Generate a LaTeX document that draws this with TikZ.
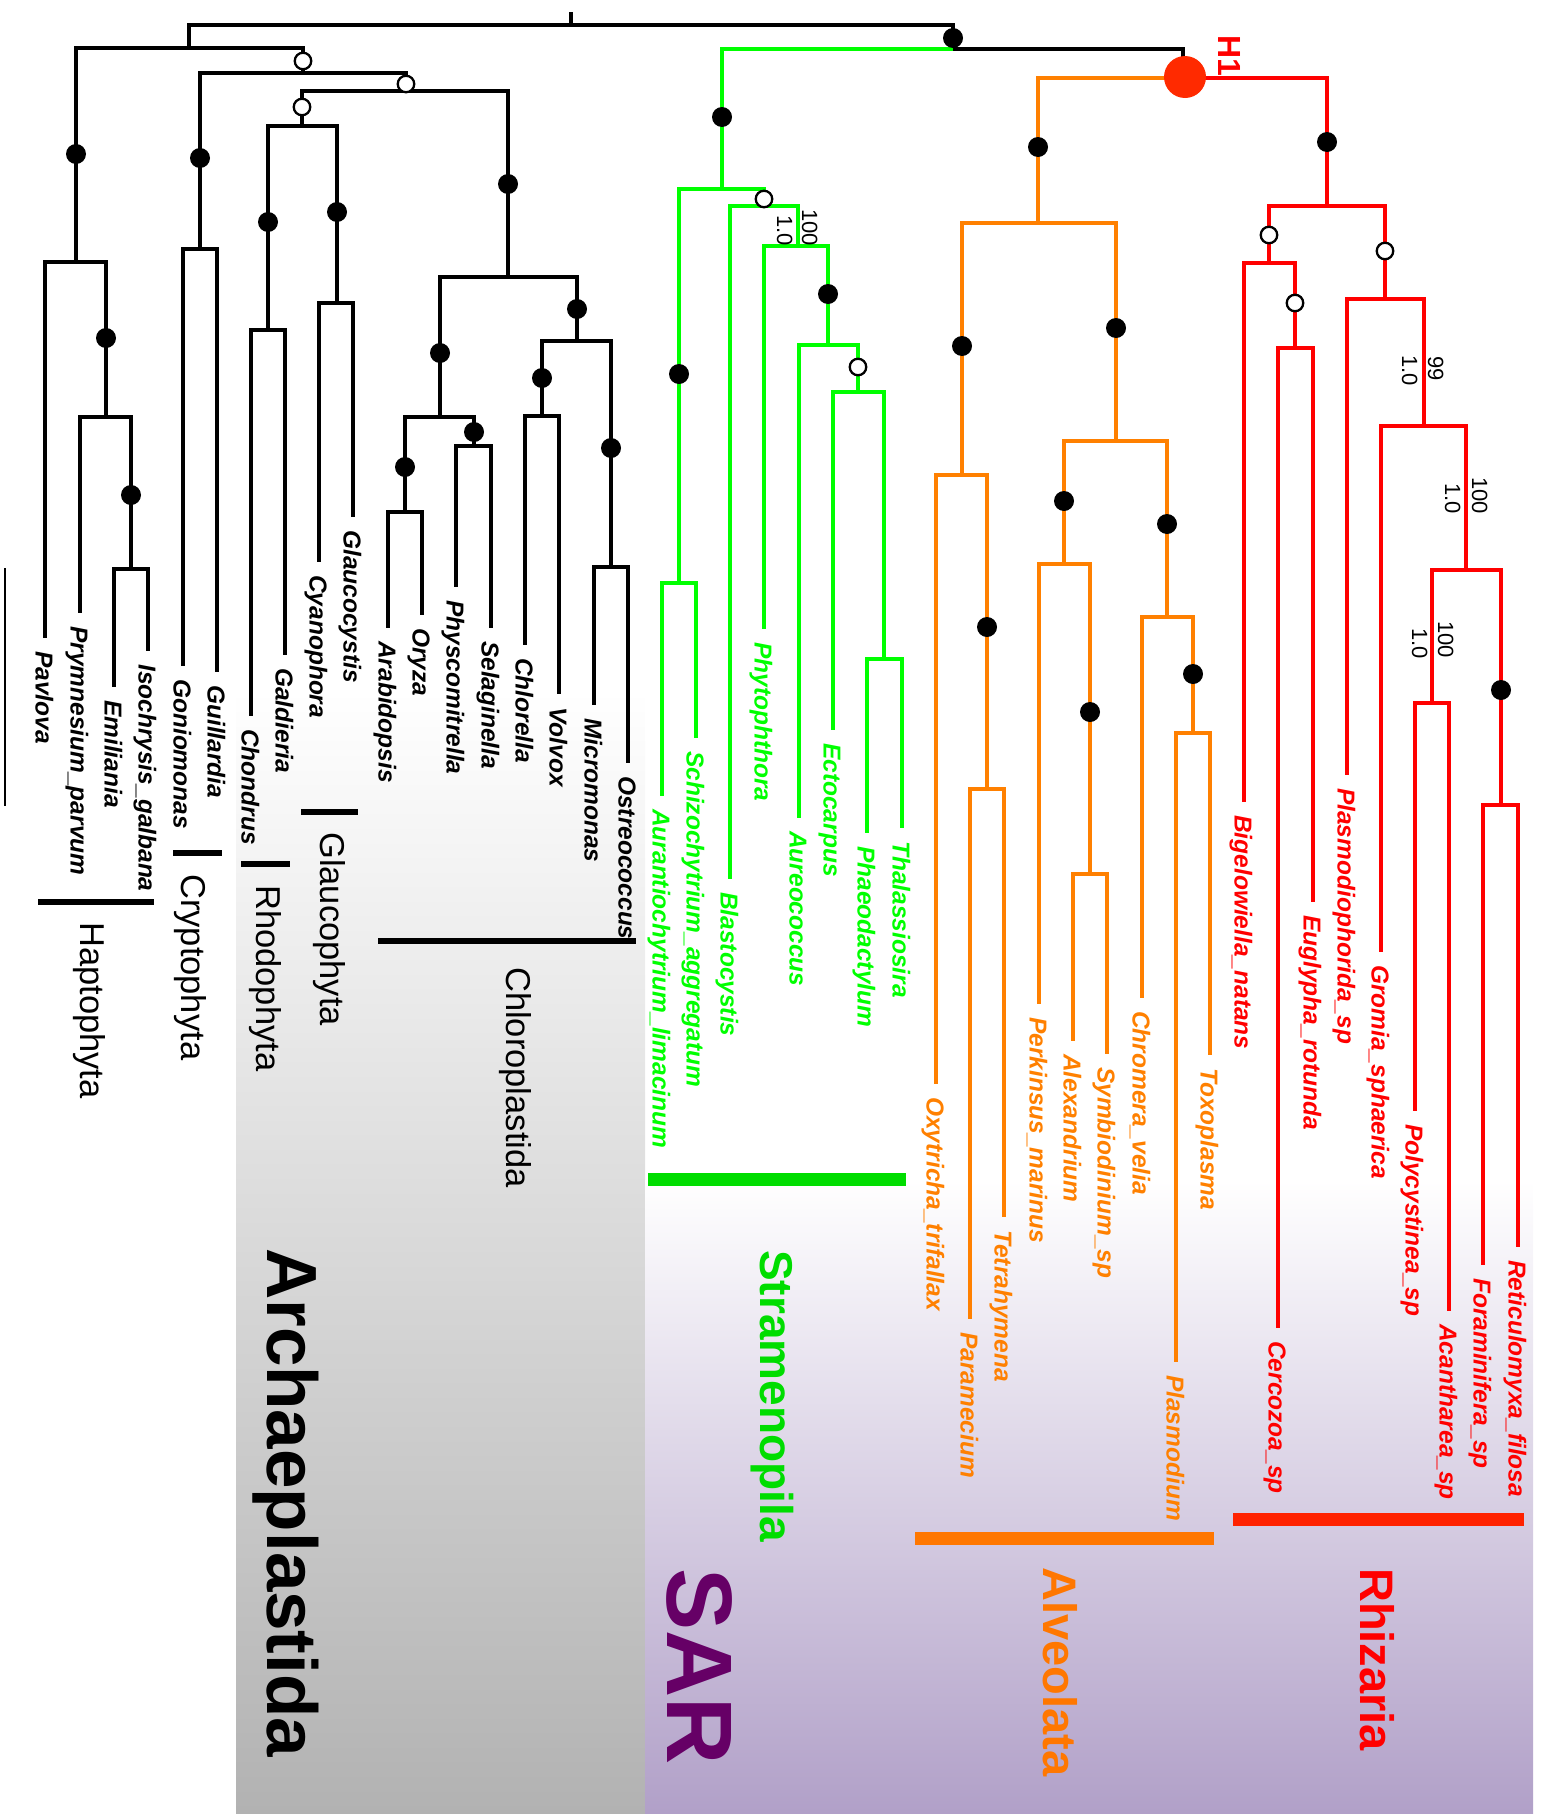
\documentclass[tikz,border=0pt]{standalone}
\usepackage{fontspec}
\setmainfont{Liberation Sans}
\usetikzlibrary{calc}
\definecolor{lgreen}{HTML}{00FF00}
\definecolor{lorange}{HTML}{FF8000}
\definecolor{lred}{HTML}{FF0000}
\definecolor{bgreen}{HTML}{00DD00}
\definecolor{borange}{HTML}{FF7700}
\definecolor{bred}{HTML}{FF2200}
\definecolor{hred}{HTML}{FF2A00}
\definecolor{sarpurple}{HTML}{660066}
\definecolor{purplebg}{HTML}{B1A0C8}
\definecolor{graybg}{HTML}{B2B2B2}
\newcommand\tip[5]{\coordinate (#1) at (#2,#3); \node[tipl,text=#5] (#1l) at ({#2-9.5},{#3+13}) {#4};}
\begin{document}
\begin{tikzpicture}[x=1pt,y=-1pt,
 edge/.style={line width=4pt},
 fdot/.style={circle,fill=black,inner sep=0pt,minimum size=20pt},
 odot/.style={circle,draw=black,line width=2.3pt,fill=white,inner sep=0pt,minimum size=16.5pt},
 tipl/.style={rotate=-90,anchor=base west,inner sep=0pt,font=\fontsize{24.5}{24.5}\selectfont\bfseries\itshape},
 supl/.style={rotate=-90,anchor=base east,inner sep=0pt,font=\fontsize{22}{22}\selectfont},
 cladel/.style={rotate=-90,anchor=base west,inner sep=0pt,font=\fontsize{34.5}{34.5}\selectfont},
 bigl/.style={rotate=-90,anchor=base west,inner sep=0pt},
 cbar/.style={line width=6pt},
 tbar/.style={line width=13pt}]
\useasboundingbox (0,0) rectangle (1549,1820);
% backgrounds
\shade[top color=white,bottom color=graybg] (236,690) rectangle (645,1813);
\shade[top color=white,bottom color=purplebg] (645,1180) rectangle (1533,1813);

% internal nodes
\coordinate (rootstem) at (571,12);
\coordinate (root) at (571,25);
\coordinate (nA) at (189,48);
\coordinate (nH) at (76,262);
\coordinate (nH2) at (106,417);
\coordinate (nH3) at (131,569);
\coordinate (nB) at (303,73);
\coordinate (nCr) at (200,249);
\coordinate (nC) at (406,91);
\coordinate (nD) at (302,126);
\coordinate (nRh) at (268,330);
\coordinate (nGl) at (337,303);
\coordinate (nCh) at (508,277);
\coordinate (nCh1) at (440,417);
\coordinate (nCh3) at (405,512);
\coordinate (nCh4) at (474,446);
\coordinate (nCh2) at (577,341);
\coordinate (nCh5) at (542,416);
\coordinate (nCh6) at (611,567);
\coordinate (nSAR) at (953,49);
\coordinate (nSt) at (722,189);
\coordinate (nSt1) at (679,583);
\coordinate (nSt2) at (764,206);
\coordinate (nSt3) at (798,246);
\coordinate (nSt4) at (828,345);
\coordinate (nSt5) at (858,392);
\coordinate (nSt6) at (884,659);
\coordinate (nH1) at (1183,78);
\coordinate (nAl) at (1038,223);
\coordinate (nAl1) at (962,475);
\coordinate (nAl3) at (987,789);
\coordinate (nAl2) at (1116,441);
\coordinate (nAl4) at (1064,564);
\coordinate (nAl6) at (1090,874);
\coordinate (nAl5) at (1167,617);
\coordinate (nAl7) at (1193,733);
\coordinate (nRz) at (1327,206);
\coordinate (nRz1) at (1269,263);
\coordinate (nRz3) at (1295,348);
\coordinate (nRz2) at (1385,299);
\coordinate (nRz4) at (1424,426);
\coordinate (nRz5) at (1466,570);
\coordinate (nRz6) at (1432,703);
\coordinate (nRz7) at (1501,805);

% tips with labels
\tip{t01}{45}{638}{Pavlova}{black}
\tip{t02}{80}{613}{Prymnesium\_parvum}{black}
\tip{t03}{114}{687}{Emiliania}{black}
\tip{t04}{148}{651}{Isochrysis\_galbana}{black}
\tip{t05}{183}{666}{Goniomonas}{black}
\tip{t06}{217}{672}{Guillardia}{black}
\tip{t07}{251}{716}{Chondrus}{black}
\tip{t08}{285}{655}{Galdieria}{black}
\tip{t09}{319}{562}{Cyanophora}{black}
\tip{t10}{353}{517}{Glaucocystis}{black}
\tip{t11}{388}{628}{Arabidopsis}{black}
\tip{t12}{422}{615}{Oryza}{black}
\tip{t13}{456}{587}{Physcomitrella}{black}
\tip{t14}{491}{628}{Selaginella}{black}
\tip{t15}{525}{645}{Chlorella}{black}
\tip{t16}{559}{694}{Volvox}{black}
\tip{t17}{594}{705}{Micromonas}{black}
\tip{t18}{628}{763}{Ostreococcus}{black}
\tip{t19}{662}{796}{Aurantiochytrium\_limacinum}{lgreen}
\tip{t20}{696}{738}{Schizochytrium\_aggregatum}{lgreen}
\tip{t21}{730}{879}{Blastocystis}{lgreen}
\tip{t22}{764}{629}{Phytophthora}{lgreen}
\tip{t23}{799}{818}{Aureococcus}{lgreen}
\tip{t24}{833}{730}{Ectocarpus}{lgreen}
\tip{t25}{867}{833}{Phaeodactylum}{lgreen}
\tip{t26}{902}{828}{Thalassiosira}{lgreen}
\tip{t27}{936}{1084}{Oxytricha\_trifallax}{lorange}
\tip{t28}{970}{1319}{Paramecium}{lorange}
\tip{t29}{1004}{1217}{Tetrahymena}{lorange}
\tip{t30}{1039}{1004}{Perkinsus\_marinus}{lorange}
\tip{t31}{1073}{1041}{Alexandrium}{lorange}
\tip{t32}{1107}{1054}{Symbiodinium\_sp}{lorange}
\tip{t33}{1142}{998}{Chromera\_velia}{lorange}
\tip{t34}{1176}{1362}{Plasmodium}{lorange}
\tip{t35}{1210}{1055}{Toxoplasma}{lorange}
\tip{t36}{1244}{802}{Bigelowiella\_natans}{lred}
\tip{t37}{1278}{1328}{Cercozoa\_sp}{lred}
\tip{t38}{1313}{902}{Euglypha\_rotunda}{lred}
\tip{t39}{1347}{775}{Plasmodiophorida\_sp}{lred}
\tip{t40}{1381}{952}{Gromia\_sphaerica}{lred}
\tip{t41}{1415}{1111}{Polycystinea\_sp}{lred}
\tip{t42}{1449}{1311}{Acantharea\_sp}{lred}
\tip{t43}{1483}{1265}{Foraminifera\_sp}{lred}
\tip{t44}{1518}{1247}{Reticulomyxa\_filosa}{lred}

% black edges
\begin{scope}[edge,draw=black]
\draw (rootstem) -- (root);
\draw (root) -| (nA); \draw (root) -| (nSAR);
\draw (nA) -| (nH); \draw (nA) -| (nB);
\draw (nH) -| (t01); \draw (nH) -| (nH2);
\draw (nH2) -| (t02); \draw (nH2) -| (nH3);
\draw (nH3) -| (t03); \draw (nH3) -| (t04);
\draw (nB) -| (nCr); \draw (nB) -| (nC);
\draw (nCr) -| (t05); \draw (nCr) -| (t06);
\draw (nC) -| (nD); \draw (nC) -| (nCh);
\draw (nD) -| (nRh); \draw (nD) -| (nGl);
\draw (nRh) -| (t07); \draw (nRh) -| (t08);
\draw (nGl) -| (t09); \draw (nGl) -| (t10);
\draw (nCh) -| (nCh1); \draw (nCh) -| (nCh2);
\draw (nCh1) -| (nCh3); \draw (nCh1) -| (nCh4);
\draw (nCh3) -| (t11); \draw (nCh3) -| (t12);
\draw (nCh4) -| (t13); \draw (nCh4) -| (t14);
\draw (nCh2) -| (nCh5); \draw (nCh2) -| (nCh6);
\draw (nCh5) -| (t15); \draw (nCh5) -| (t16);
\draw (nCh6) -| (t17); \draw (nCh6) -| (t18);
\draw (nSAR) -| (nH1);
\end{scope}
% green edges
\begin{scope}[edge,draw=lgreen]
\draw (nSAR) -| (nSt);
\draw (nSt) -| (nSt1); \draw (nSt) -| (nSt2);
\draw (nSt1) -| (t19); \draw (nSt1) -| (t20);
\draw (nSt2) -| (t21); \draw (nSt2) -| (nSt3);
\draw (nSt3) -| (t22); \draw (nSt3) -| (nSt4);
\draw (nSt4) -| (t23); \draw (nSt4) -| (nSt5);
\draw (nSt5) -| (t24); \draw (nSt5) -| (nSt6);
\draw (nSt6) -| (t25); \draw (nSt6) -| (t26);
\end{scope}
% orange edges
\begin{scope}[edge,draw=lorange]
\draw (nH1) -| (nAl);
\draw (nAl) -| (nAl1); \draw (nAl) -| (nAl2);
\draw (nAl1) -| (t27); \draw (nAl1) -| (nAl3);
\draw (nAl3) -| (t28); \draw (nAl3) -| (t29);
\draw (nAl2) -| (nAl4); \draw (nAl2) -| (nAl5);
\draw (nAl4) -| (t30); \draw (nAl4) -| (nAl6);
\draw (nAl6) -| (t31); \draw (nAl6) -| (t32);
\draw (nAl5) -| (t33); \draw (nAl5) -| (nAl7);
\draw (nAl7) -| (t34); \draw (nAl7) -| (t35);
\end{scope}
% red edges
\begin{scope}[edge,draw=lred]
\draw (nH1) -| (nRz);
\draw (nRz) -| (nRz1); \draw (nRz) -| (nRz2);
\draw (nRz1) -| (t36); \draw (nRz1) -| (nRz3);
\draw (nRz3) -| (t37); \draw (nRz3) -| (t38);
\draw (nRz2) -| (t39); \draw (nRz2) -| (nRz4);
\draw (nRz4) -| (t40); \draw (nRz4) -| (nRz5);
\draw (nRz5) -| (nRz6); \draw (nRz5) -| (nRz7);
\draw (nRz6) -| (t41); \draw (nRz6) -| (t42);
\draw (nRz7) -| (t43); \draw (nRz7) -| (t44);
\end{scope}

% support markers
\node[fdot] (d01) at (953,38) {};
\node[fdot] (d02) at (76,154) {};
\node[fdot] (d03) at (106,338) {};
\node[fdot] (d04) at (131,495) {};
\node[fdot] (d05) at (200,158) {};
\node[fdot] (d06) at (268,222) {};
\node[fdot] (d07) at (337,212) {};
\node[fdot] (d08) at (508,184) {};
\node[fdot] (d09) at (440,353) {};
\node[fdot] (d10) at (474,432) {};
\node[fdot] (d11) at (405,467) {};
\node[fdot] (d12) at (577,309) {};
\node[fdot] (d13) at (542,378) {};
\node[fdot] (d14) at (611,448) {};
\node[fdot] (d15) at (722,117) {};
\node[fdot] (d16) at (679,374) {};
\node[fdot] (d17) at (828,294) {};
\node[fdot] (d18) at (962,346) {};
\node[fdot] (d19) at (987,627) {};
\node[fdot] (d20) at (1038,147) {};
\node[fdot] (d21) at (1116,328) {};
\node[fdot] (d22) at (1064,501) {};
\node[fdot] (d23) at (1090,712) {};
\node[fdot] (d24) at (1167,524) {};
\node[fdot] (d25) at (1193,674) {};
\node[fdot] (d26) at (1327,142) {};
\node[fdot] (d27) at (1501,690) {};
\node[odot] (o01) at (303,61) {};
\node[odot] (o02) at (406,84) {};
\node[odot] (o03) at (302,107) {};
\node[odot] (o04) at (764,199) {};
\node[odot] (o05) at (858,367) {};
\node[odot] (o06) at (1269,235) {};
\node[odot] (o07) at (1385,251) {};
\node[odot] (o08) at (1295,303) {};
\node[circle,fill=hred,inner sep=0pt,minimum size=42pt] (h1dot) at (1185,77) {};
\node[rotate=-90,anchor=base west,inner sep=0pt,text=lred,font=\fontsize{32}{32}\selectfont\bfseries] (h1l) at (1218,35) {H1};

% support values
\node[supl] (s1a) at (802,246) {100};
\node[supl] (s1b) at (777,246) {1.0};
\node[supl] (s2a) at (1428,381) {99};
\node[supl] (s2b) at (1402,386) {1.0};
\node[supl] (s3a) at (1472,514) {100};
\node[supl] (s3b) at (1445,514) {1.0};
\node[supl] (s4a) at (1438,658) {100};
\node[supl] (s4b) at (1412,659) {1.0};

% scale line
\draw[line width=1.5pt] (5,568) -- (5,806);

% clade bars
\draw[cbar] (38,902) -- (154,902);
\draw[cbar] (173,853) -- (222,853);
\draw[cbar] (241,864) -- (290,864);
\draw[cbar] (301,812) -- (358,812);
\draw[cbar] (378,941) -- (636,941);
\draw[tbar,draw=bgreen] (648,1179) -- (906,1179);
\draw[tbar,draw=borange] (915,1538) -- (1214,1538);
\draw[tbar,draw=bred] (1233,1519) -- (1524,1519);

% clade labels
\node[cladel] (cHap) at (80,922) {Haptophyta};
\node[cladel] (cCry) at (181,874) {Cryptophyta};
\node[cladel] (cRho) at (256,885) {Rhodophyta};
\node[cladel] (cGla) at (320,832) {Glaucophyta};
\node[cladel] (cChl) at (506,967) {Chloroplastida};
\node[bigl,font=\fontsize{71}{71}\selectfont\bfseries] (cArc) at (267,1248) {Archaeplastida};
\node[bigl,text=bgreen,font=\fontsize{46}{46}\selectfont\bfseries] (cStr) at (760,1250) {Stramenopila};
\node[bigl,text=sarpurple,font=\fontsize{93}{93}\selectfont\bfseries] (cSAR) at (667,1568) {SAR};
\node[bigl,text=borange,font=\fontsize{47}{47}\selectfont\bfseries] (cAlv) at (1043,1567) {Alveolata};
\node[bigl,text=lred,font=\fontsize{47}{47}\selectfont\bfseries] (cRhi) at (1360,1568) {Rhizaria};
\end{tikzpicture}
\end{document}
